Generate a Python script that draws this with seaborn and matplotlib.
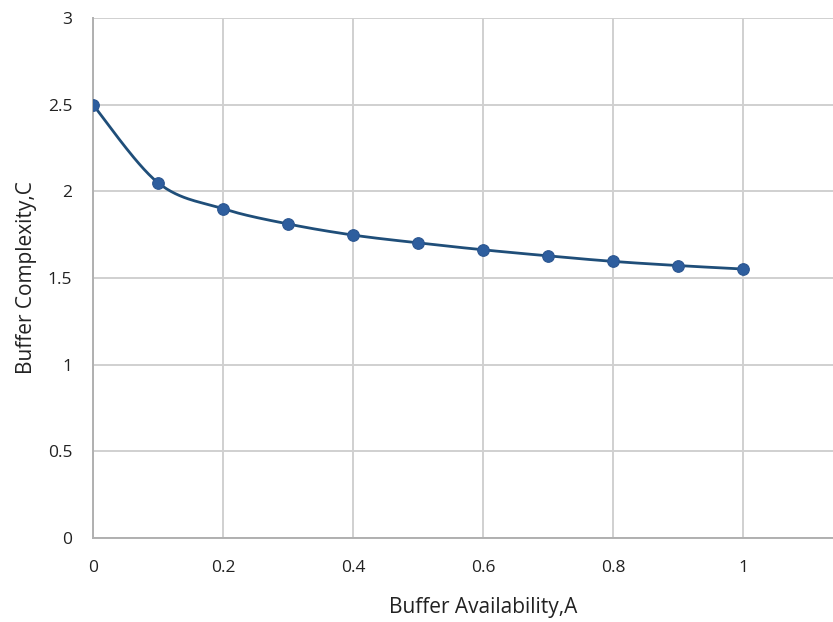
import numpy as np
import pandas as pd
import matplotlib
matplotlib.use("Agg")
import matplotlib.pyplot as plt
import seaborn as sns

# Values
availability = [0.0, 0.1, 0.2, 0.3, 0.4, 0.5, 0.6, 0.7, 0.8, 0.9, 1.0]
complexity = [2.5, 2.05, 1.9, 1.812, 1.748, 1.703, 1.663, 1.628, 1.596, 1.572, 1.552]
x_ticks = [0, 0.2, 0.4, 0.6, 0.8, 1]
x_tick_labels = ["0", "0.2", "0.4", "0.6", "0.8", "1"]
y_ticks = [0, 0.5, 1, 1.5, 2, 2.5, 3]
y_tick_labels = ["0", "0.5", "1", "1.5", "2", "2.5", "3"]

df = pd.DataFrame({"A": availability, "C": complexity})


# Excel-like smoothed line (Catmull-Rom through the data points)
def smooth(xs, ys, n=30):
    p = np.column_stack([xs, ys])
    p = np.vstack([p[0], p, p[-1]])
    out = []
    t = np.linspace(0, 1, n, endpoint=False)[:, None]
    for i in range(1, len(p) - 2):
        p0, p1, p2, p3 = p[i - 1], p[i], p[i + 1], p[i + 2]
        seg = 0.5 * ((2 * p1) + (-p0 + p2) * t + (2 * p0 - 5 * p1 + 4 * p2 - p3) * t ** 2
                     + (-p0 + 3 * p1 - 3 * p2 + p3) * t ** 3)
        out.append(seg)
    out.append(p[-2][None, :])
    out = np.vstack(out)
    return out[:, 0], out[:, 1]


sx, sy = smooth(df["A"].values, df["C"].values)
curve = pd.DataFrame({"A": sx, "C": sy})

sns.set_style("white")
plt.rcParams["font.family"] = ["Open Sans", "DejaVu Sans"]

fig = plt.figure(figsize=(8.33, 6.22), dpi=100)
# the plot area runs on past the right edge of the picture (cropped at ~1.14)
ax = fig.add_axes([0.1116, 0.135, 0.9364, 0.836])

sns.lineplot(x="A", y="C", data=curve, ax=ax, color="#1F4E79", linewidth=2.0,
             sort=False, zorder=3)
sns.scatterplot(x="A", y="C", data=df, ax=ax, color="#2E5E9E", s=70,
                edgecolor="#2A5590", linewidth=0.8, zorder=4)

ax.set_xlim(0, 1.2)
ax.set_ylim(0, 3)
ax.set_xticks(x_ticks)
ax.set_xticklabels(x_tick_labels)
ax.set_yticks(y_ticks)
ax.set_yticklabels(y_tick_labels)
ax.tick_params(axis="both", length=0, labelsize=12.5, colors="#222222")
ax.tick_params(axis="x", pad=16)
ax.tick_params(axis="y", pad=15)

ax.grid(True, color="#D0D0D0", linewidth=1.4)
ax.set_axisbelow(True)
for side in ["top", "right"]:
    ax.spines[side].set_visible(False)
for side in ["left", "bottom"]:
    ax.spines[side].set_color("#B0B0B0")
    ax.spines[side].set_linewidth(1.4)

ax.set_xlabel("Buffer Availability,A", fontsize=15, color="#222222", labelpad=15)
ax.set_ylabel("Buffer Complexity,C", fontsize=15, color="#222222", labelpad=8)

fig.savefig("out.png", dpi=100)
